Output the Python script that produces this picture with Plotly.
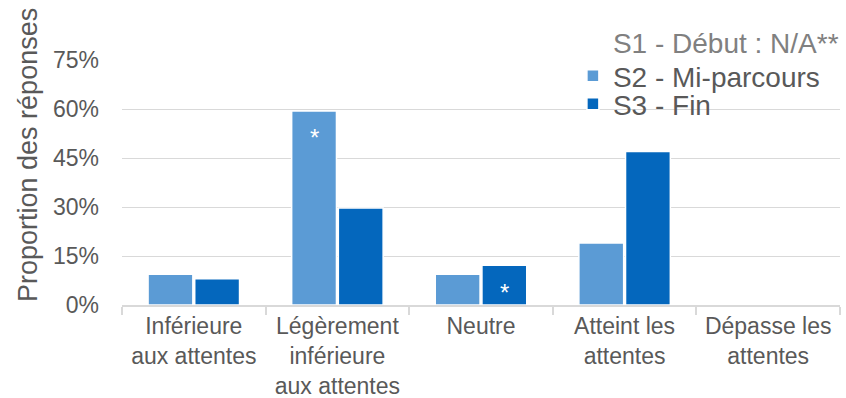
import plotly.graph_objects as go

categories = ["Inférieure<br>aux attentes", "Légèrement<br>inférieure<br>aux attentes",
              "Neutre", "Atteint les<br>attentes", "Dépasse les<br>attentes"]
s2_values = [0.094, 0.594, 0.094, 0.19, 0.0]
s3_values = [0.08, 0.297, 0.122, 0.47, 0.0]
s2_marks = ["", "*", "", "", ""]
s3_marks = ["", "", "*", "", ""]
y_ticks = [0, 0.15, 0.30, 0.45, 0.60, 0.75]

FONT = "Arial, Liberation Sans, sans-serif"
GRAY = "#595959"
BARGAP = 0.35
BARGROUPGAP = 0.04

fig = go.Figure()
# S1 has no data: legend entry only (invisible marker)
fig.add_trace(go.Scatter(
    x=[categories[0]], y=[0], mode="markers", name="S1 - Début : N/A**",
    marker=dict(color="rgba(0,0,0,0)", size=1), legend="legend",
    showlegend=True, hoverinfo="skip"))
fig.add_trace(go.Bar(
    x=categories, y=s2_values, name="S2 - Mi-parcours",
    marker=dict(color="#5B9BD5", line=dict(color="white", width=1.5)),
    legend="legend2"))
fig.add_trace(go.Bar(
    x=categories, y=s3_values, name="S3 - Fin",
    marker=dict(color="#0467BD", line=dict(color="white", width=1.5)),
    legend="legend3"))

# asterisk marks inside the bars
slot = (1 - BARGAP) / 4
for marks, vals, side in ((s2_marks, s2_values, -1), (s3_marks, s3_values, 1)):
    for i, (m, v) in enumerate(zip(marks, vals)):
        if m:
            fig.add_annotation(
                x=i + side * slot, y=v, xref="x", yref="y", text=m,
                showarrow=False, yanchor="middle", yshift=-27,
                font=dict(color="white", size=24, family=FONT))

leg_common = dict(x=0.628, xanchor="left", yanchor="middle",
                  bgcolor="rgba(0,0,0,0)", itemwidth=30)
fig.update_layout(
    width=846, height=398,
    margin=dict(l=122, r=6, t=60, b=93, autoexpand=False),
    paper_bgcolor="white", plot_bgcolor="white",
    showlegend=True,
    barmode="group", bargap=BARGAP, bargroupgap=BARGROUPGAP,
    font=dict(family=FONT, color=GRAY, size=23),
    legend=dict(y=1.073, font=dict(size=28, color="#808080"), **leg_common),
    legend2=dict(y=0.935, font=dict(size=28, color=GRAY), **leg_common),
    legend3=dict(y=0.820, font=dict(size=28, color=GRAY), **leg_common),
)
fig.update_xaxes(
    type="category", categoryorder="array", categoryarray=categories,
    showline=True, linecolor="#d9d9d9", linewidth=1.5,
    ticks="outside", tickson="boundaries", ticklen=8, tickcolor="#d9d9d9", tickwidth=1.5,
    tickfont=dict(size=23, color=GRAY), showgrid=False, automargin=False,
    ticklabelstandoff=0)
fig.update_yaxes(
    range=[0, 0.75], tickvals=y_ticks, tickformat=".0%",
    showgrid=True, gridcolor="#d9d9d9", gridwidth=1.2,
    zeroline=False, showline=False, ticks="", automargin=False,
    tickfont=dict(size=23, color=GRAY), ticklabelstandoff=22)
fig.add_annotation(
    text="Proportion des réponses", textangle=-90,
    xref="paper", yref="paper", x=-0.131, y=0.612,
    xanchor="center", yanchor="middle", showarrow=False,
    font=dict(size=27, color=GRAY))

fig.write_html("out.html")
